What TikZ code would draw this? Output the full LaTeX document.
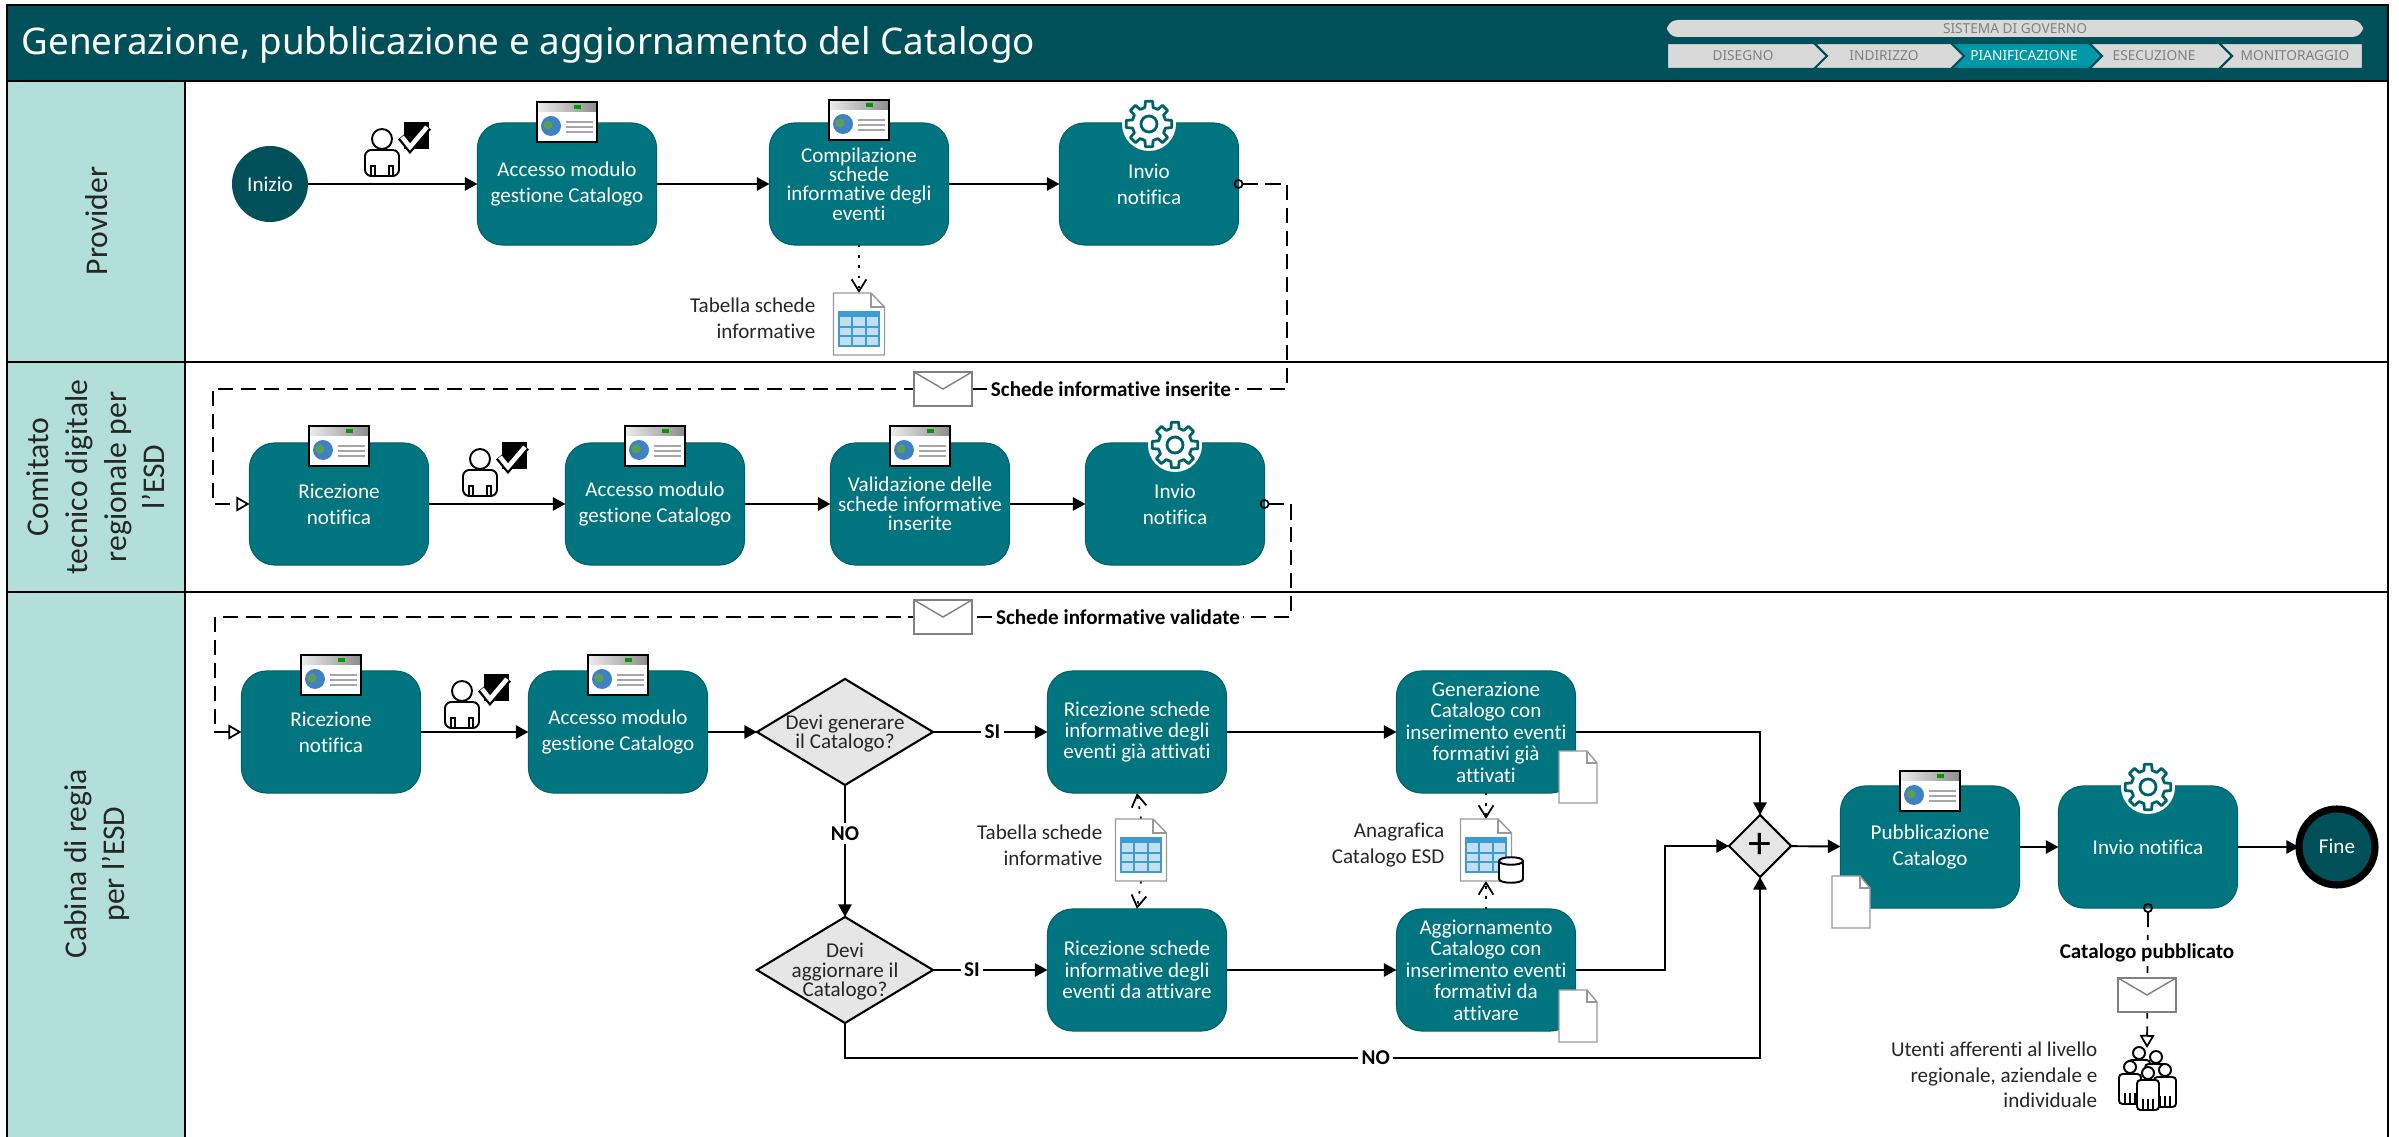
\documentclass[tikz,border=0pt]{standalone}
\usepackage{fontspec}
\setmainfont{Carlito}[Ligatures=NoCommon]
\newfontfamily\titlefont{Noto Sans}
\usetikzlibrary{arrows.meta,shapes.geometric}
\definecolor{barteal}{HTML}{00505A}
\definecolor{taskteal}{HTML}{00747F}
\definecolor{edgeteal}{HTML}{00616B}
\definecolor{lanegreen}{HTML}{B2DFD9}
\definecolor{activeblue}{HTML}{0097A7}
\definecolor{tabsgray}{HTML}{D9D9D9}
\definecolor{tabtext}{HTML}{808080}
\definecolor{gategray}{HTML}{E6E6E6}
\definecolor{inktext}{HTML}{262626}
\definecolor{globeblue}{HTML}{3F82C4}
\definecolor{globegreen}{HTML}{5C9E52}
\definecolor{cellblue}{HTML}{C3DFF2}
\definecolor{gridblue}{HTML}{3F9BD3}
\newcommand{\spacedfont}{\fontsize{6}{6.1}\selectfont\setlength{\lineskiplimit}{-5pt}}
\newcommand{\tightfont}{\fontsize{6}{5.5}\selectfont\setlength{\lineskiplimit}{-5pt}}
\tikzset{
    body/.style={font=\fontsize{6}{7.3}\selectfont,text=inktext},
    task/.style={rectangle,rounded corners=.25cm,fill=taskteal,draw=edgeteal,line width=.3pt,minimum width=1.79cm,minimum height=1.22cm,inner sep=0pt,outer sep=0pt,align=center,text=white},
    spaced/.style={font=\spacedfont},
    tight/.style={font=\tightfont},
    gate/.style={diamond,aspect=1.66,fill=gategray,draw=black,line width=.6pt,minimum width=1.76cm,minimum height=1.06cm,inner sep=0pt,outer sep=0pt},
    gatetext/.style={align=center,text=inktext,font=\tightfont,yshift=-.5pt},
    eventnode/.style={circle,minimum size=.76cm,inner sep=0pt,outer sep=0pt,fill=barteal,text=white},
    flow/.style={line width=.55pt,-{Triangle[length=3.6pt,width=3.8pt]}},
    msgflow/.style={line width=.5pt,dash pattern=on 4.3pt off 2.2pt,{Circle[open,length=2.8pt,width=2.8pt]}-{Triangle[open,fill=white,length=3.7pt,width=4.2pt]},shorten <=-1.4pt},
    dataflow/.style={line width=.5pt,dash pattern=on .7pt off 2.2pt,-{Straight Barb[length=3.4pt,width=4.2pt]}},
    edgelabel/.style={fill=white,inner sep=1pt,font=\bfseries\fontsize{6}{7.3}\selectfont,text=black},
    note/.style={align=right,text=inktext,inner sep=0pt},
    envelope/.style={rectangle,draw=gray,fill=white,line width=.4pt,minimum width=.58cm,minimum height=.34cm,inner sep=0pt,outer sep=0pt,path picture={\draw[gray,line width=.4pt] (path picture bounding box.north west)--(path picture bounding box.center)--(path picture bounding box.north east);}},
    docbox/.style={rectangle,minimum width=.51cm,minimum height=.62cm,inner sep=0pt,outer sep=0pt},
    lanelabel/.style={rotate=90,align=center,text=inktext,font=\fontsize{9}{11}\selectfont},
    tab/.style={fill=tabsgray,draw=barteal,line width=.6pt},
    tabtitle/.style={text=tabtext,font=\titlefont\fontsize{3.9}{5}\selectfont,inner sep=0pt},
    screenicon/.pic={
        \fill[white] (-30,-20) rectangle (30,20);
        \shade[left color=gray!15,right color=gray!90] (-30,-20) rectangle (30,-10);
        \fill[green!60!black] (7,-17) rectangle (14,-13);
        \fill[globeblue] (-16,4) circle[radius=10];
        \fill[globegreen] (-19,3) circle[radius=4.5];
        \draw[gray!70,line width=.3pt] (-1,0)--(26,0) (-1,5)--(26,5) (-1,10)--(26,10);
        \draw[black,line width=.55pt] (-30,-20) rectangle (30,20);
    },
    gearicon/.pic={
        \fill[white] (0,0) circle[radius=27];
        \draw[edgeteal,line width=.8pt,line join=round] (-14:17) \foreach \a in {0,45,...,315} {--(\a-14:17)--(\a-9:23)--(\a+9:23)--(\a+14:17)} --cycle;
        \draw[edgeteal,line width=.8pt] (0,0) circle[radius=8];
    },
    plaindoc/.pic={
        \draw[gray!80,fill=white,line width=.4pt] (-19,-26)--(9,-26)--(19,-14)--(19,26)--(-19,26)--cycle;
        \draw[gray!80,line width=.4pt] (9,-26)--(9,-14)--(19,-14);
    },
    tabledoc/.pic={
        \draw[gray!80,fill=white,line width=.4pt] (-25.5,-31)--(12,-31)--(25.5,-17)--(25.5,31)--(-25.5,31)--cycle;
        \draw[gray!80,line width=.4pt] (12,-31)--(12,-17)--(25.5,-17);
        \fill[cellblue] (-20,-12) rectangle (20,22);
        \fill[gridblue] (-20,-12) rectangle (20,-7);
        \draw[gridblue,line width=.3pt] (-20,-12) rectangle (20,22) (-7,-7)--(-7,22) (7,-7)--(7,22) (-20,3)--(20,3) (-20,12)--(20,12);
    },
    dbicon/.pic={
        \draw[black,fill=white,line width=.55pt] (-12,-9)--(-12,9) .. controls (-12,14) and (12,14) .. (12,9)--(12,-9) .. controls (12,-14) and (-12,-14) .. (-12,-9)--cycle;
        \draw[black,line width=.55pt] (-12,-9) .. controls (-12,-4) and (12,-4) .. (12,-9);
    },
    usercheck/.pic={
        \draw[black,fill=white,line width=.55pt] (0,0) circle[radius=10];
        \draw[black,fill=white,line width=.55pt,rounded corners=1.8pt] (-17,37)--(-17,11)--(17,11)--(17,37)--cycle;
        \draw[black,line width=.55pt] (-11,37)--(-11,27)--(-7,27)--(-7,37) (11,37)--(11,27)--(7,27)--(7,37);
        \fill[black] (22,-17) rectangle (47,10);
        \draw[black,line width=2.2pt] (19,-2)--(28,9)--(46,-12);
        \draw[white,line width=1.3pt] (20,-2)--(28,8)--(45,-12);
    },
    crowdman/.pic={
        \draw[black,fill=white,line width=.55pt] (0,0) circle[radius=6];
        \draw[black,fill=white,line width=.55pt,rounded corners=1pt] (-11,37)--(-11,7)--(11,7)--(11,37)--cycle;
        \draw[black,line width=.55pt] (-5,37)--(-5,26) (0,37)--(0,26) (5,37)--(5,26);
    }
}
\begin{document}
\begin{tikzpicture}[x=.01cm,y=-.01cm,every node/.style={body}]
    \useasboundingbox (0,0) rectangle (2399,1137);
    \draw[line width=.7pt] (7,1145)--(7,81)--(2388,81)--(2388,1145);
    \draw[fill=lanegreen,line width=.7pt] (7,81) rectangle (185,362);
    \draw[fill=lanegreen,line width=.7pt] (7,362) rectangle (185,592);
    \draw[fill=lanegreen,line width=.7pt] (7,592) rectangle (185,1145);
    \draw[line width=.7pt] (185,362)--(2388,362);
    \draw[line width=.7pt] (185,592)--(2388,592);
    \draw[fill=barteal,line width=.7pt] (7,5) rectangle (2388,81);
    \node[anchor=base west,inner sep=0pt,text=white,font=\titlefont\fontsize{10.45}{13}\selectfont] (title) at (21,55) {Generazione, pubblicazione e aggiornamento del Catalogo};
    \fill[tabsgray,rounded corners=3pt] (1667,37)--(1667,20)--(2363,20)--(2363,37)--cycle;
    \node[tabtitle] (governo) at (2015,29) {SISTEMA DI GOVERNO};
    \draw[tab] (1667,43)--(1814,43)--(1827,56)--(1814,69)--(1667,69)--cycle;
    \draw[tab] (1814,43)--(1951,43)--(1964,56)--(1951,69)--(1814,69)--(1827,56)--cycle;
    \draw[tab,fill=activeblue] (1951,43)--(2089,43)--(2102,56)--(2089,69)--(1951,69)--(1964,56)--cycle;
    \draw[tab] (2089,43)--(2219,43)--(2232,56)--(2219,69)--(2089,69)--(2102,56)--cycle;
    \draw[tab] (2219,43)--(2363,43)--(2363,69)--(2219,69)--(2232,56)--cycle;
    \node[tabtitle] (disegno) at (1743,56) {DISEGNO};
    \node[tabtitle] (indirizzo) at (1884,56) {INDIRIZZO};
    \node[tabtitle,text=white,font=\titlefont\bfseries\fontsize{3.9}{5}\selectfont] (pianif) at (2024,56) {PIANIFICAZIONE};
    \node[tabtitle] (esecuzione) at (2154,56) {ESECUZIONE};
    \node[tabtitle] (monitor) at (2295,56) {MONITORAGGIO};
    \node[lanelabel] (laneP) at (97,221) {Provider};
    \node[lanelabel] (laneC) at (96,477) {Comitato\\tecnico digitale\\regionale per\\l’ESD};
    \node[lanelabel] (laneR) at (97,864) {Cabina di regia\\per l’ESD};
    \node[eventnode] (Inizio) at (270,184) {Inizio};
    \node[task] (P1) at (567,184) {Accesso modulo\\gestione Catalogo};
    \node[task,tight] (P2) at (859,184) {Compilazione\\schede\\informative degli\\eventi};
    \node[task] (P3) at (1149,184) {Invio\\notifica};
    \node[docbox] (TP) at (859,324) {};
    \node[note,anchor=east] (noteP) at (816,318) {Tabella schede\\informative};
    \node[task] (C1) at (339,504) {Ricezione\\notifica};
    \node[task] (C2) at (655,504) {Accesso modulo\\gestione Catalogo};
    \node[task,tight] (C3) at (920,504) {Validazione delle\\schede informative\\inserite};
    \node[task] (C4) at (1175,504) {Invio\\notifica};
    \node[task] (R1) at (331,732) {Ricezione\\notifica};
    \node[task] (R2) at (618,732) {Accesso modulo\\gestione Catalogo};
    \node[gate,label={[gatetext]center:Devi generare\\il Catalogo?}] (G1) at (845,732) {};
    \node[gate,label={[gatetext]center:Devi\\aggiornare il\\Catalogo?}] (G2) at (845,970) {};
    \node[task,spaced] (R3) at (1137,732) {Ricezione schede\\informative degli\\eventi già attivati};
    \node[task,spaced] (R4) at (1137,970) {Ricezione schede\\informative degli\\eventi da attivare};
    \node[task,spaced] (R5) at (1486,732) {Generazione\\Catalogo con\\inserimento eventi\\formativi già\\attivati};
    \node[task,spaced] (R6) at (1486,970) {Aggiornamento\\Catalogo con\\inserimento eventi\\formativi da\\attivare};
    \node[gate,minimum width=.62cm,minimum height=.62cm,aspect=1,label={[text=black,font=\fontsize{13}{13}\selectfont]center:+}] (G3) at (1760,846) {};
    \node[task] (R7) at (1930,847) {Pubblicazione\\Catalogo};
    \node[task] (R8) at (2148,847) {Invio notifica};
    \node[eventnode,draw=black,line width=2pt] (Fine) at (2337,847) {\raisebox{.7pt}{Fine}};
    \node[docbox] (TC) at (1141,850) {};
    \node[note,anchor=east] (noteT) at (1103,845) {Tabella schede\\informative};
    \node[docbox] (TA) at (1486,850) {};
    \node[note,anchor=east] (noteA) at (1445,845) {Anagrafica\\Catalogo ESD};
    \node[note,anchor=east] (noteU) at (2098,1075) {Utenti afferenti al livello\\regionale, aziendale e\\individuale};
    \node[envelope] (M1) at (943,389) {};
    \node[envelope] (M2) at (943,617) {};
    \node[envelope] (M3) at (2147,995) {};
    \coordinate (A1) at (1287,184);
    \coordinate (A2) at (1287,389);
    \coordinate (A3) at (213,389);
    \coordinate (A4) at (213,504);
    \coordinate (B1) at (1291,504);
    \coordinate (B2) at (1291,617);
    \coordinate (B3) at (215,617);
    \coordinate (B4) at (215,732);
    \coordinate (E1) at (1760,732);
    \coordinate (E2) at (1665,970);
    \coordinate (E3) at (1665,846);
    \coordinate (N1) at (845,1058);
    \coordinate (N2) at (1760,1058);
    \coordinate (U1) at (2147,1048);
    \draw[flow] (Inizio)--(P1);
    \draw[flow] (P1)--(P2);
    \draw[flow] (P2)--(P3);
    \draw[dataflow] (P2.south)--(TP.north);
    \draw[msgflow] (P3.east)--(A1)--(A2)--(A3)--(A4)--(C1.west);
    \draw[flow] (C1)--(C2);
    \draw[flow] (C2)--(C3);
    \draw[flow] (C3)--(C4);
    \draw[msgflow] (C4.east)--(B1)--(B2)--(B3)--(B4)--(R1.west);
    \draw[flow] (R1)--(R2);
    \draw[flow] (R2)--(G1);
    \draw[flow] (G1)--node[edgelabel,pos=.52]{SI}(R3);
    \draw[flow] (G1)--node[edgelabel,pos=.37]{NO}(G2);
    \draw[flow] (G2)--node[edgelabel,pos=.34]{SI}(R4);
    \draw[flow] (R3)--(R5);
    \draw[flow] (R4)--(R6);
    \draw[flow] (R5.east)--(E1)--(G3.north);
    \draw[flow] (R6.east)--(E2)--(E3)--(G3.west);
    \draw[flow] (G2.south)--(N1)--node[edgelabel,pos=.58]{NO}(N2)--(G3.south);
    \draw[flow] (G3)--(R7);
    \draw[flow] (R7)--(R8);
    \draw[flow] (R8)--(Fine);
    \draw[dataflow] (TC.north)--(R3.south);
    \draw[dataflow] (TC.south)--(R4.north);
    \draw[dataflow] (R5.south)--(TA.north);
    \draw[dataflow] (R6.north)--(TA.south);
    \draw[msgflow] (R8.south)--(U1);
    \node[envelope] at (M1) {};
    \node[envelope] at (M2) {};
    \node[envelope] at (M3) {};
    \node[edgelabel] (L1) at (1111,389) {Schede informative inserite};
    \node[edgelabel] (L2) at (1118,617) {Schede informative validate};
    \node[edgelabel] (L3) at (2147,953) {Catalogo pubblicato};
    \pic at (567,122) {screenicon};
    \pic at (859,120) {screenicon};
    \pic at (339,446) {screenicon};
    \pic at (655,446) {screenicon};
    \pic at (920,446) {screenicon};
    \pic at (331,675) {screenicon};
    \pic at (618,675) {screenicon};
    \pic at (1930,791) {screenicon};
    \pic at (1149,124) {gearicon};
    \pic at (1175,445) {gearicon};
    \pic at (2148,787) {gearicon};
    \pic at (382,139) {usercheck};
    \pic at (480,459) {usercheck};
    \pic at (462,691) {usercheck};
    \pic at (TP) {tabledoc};
    \pic at (TC) {tabledoc};
    \pic at (TA) {tabledoc};
    \pic at (1511,870) {dbicon};
    \pic at (1578,777) {plaindoc};
    \pic at (1578,1016) {plaindoc};
    \pic at (1851,902) {plaindoc};
    \pic at (2139,1053) {crowdman};
    \pic at (2156,1057) {crowdman};
    \pic at (2130,1067) {crowdman};
    \pic at (2165,1070) {crowdman};
    \pic at (2148,1073) {crowdman};
\end{tikzpicture}
\end{document}
